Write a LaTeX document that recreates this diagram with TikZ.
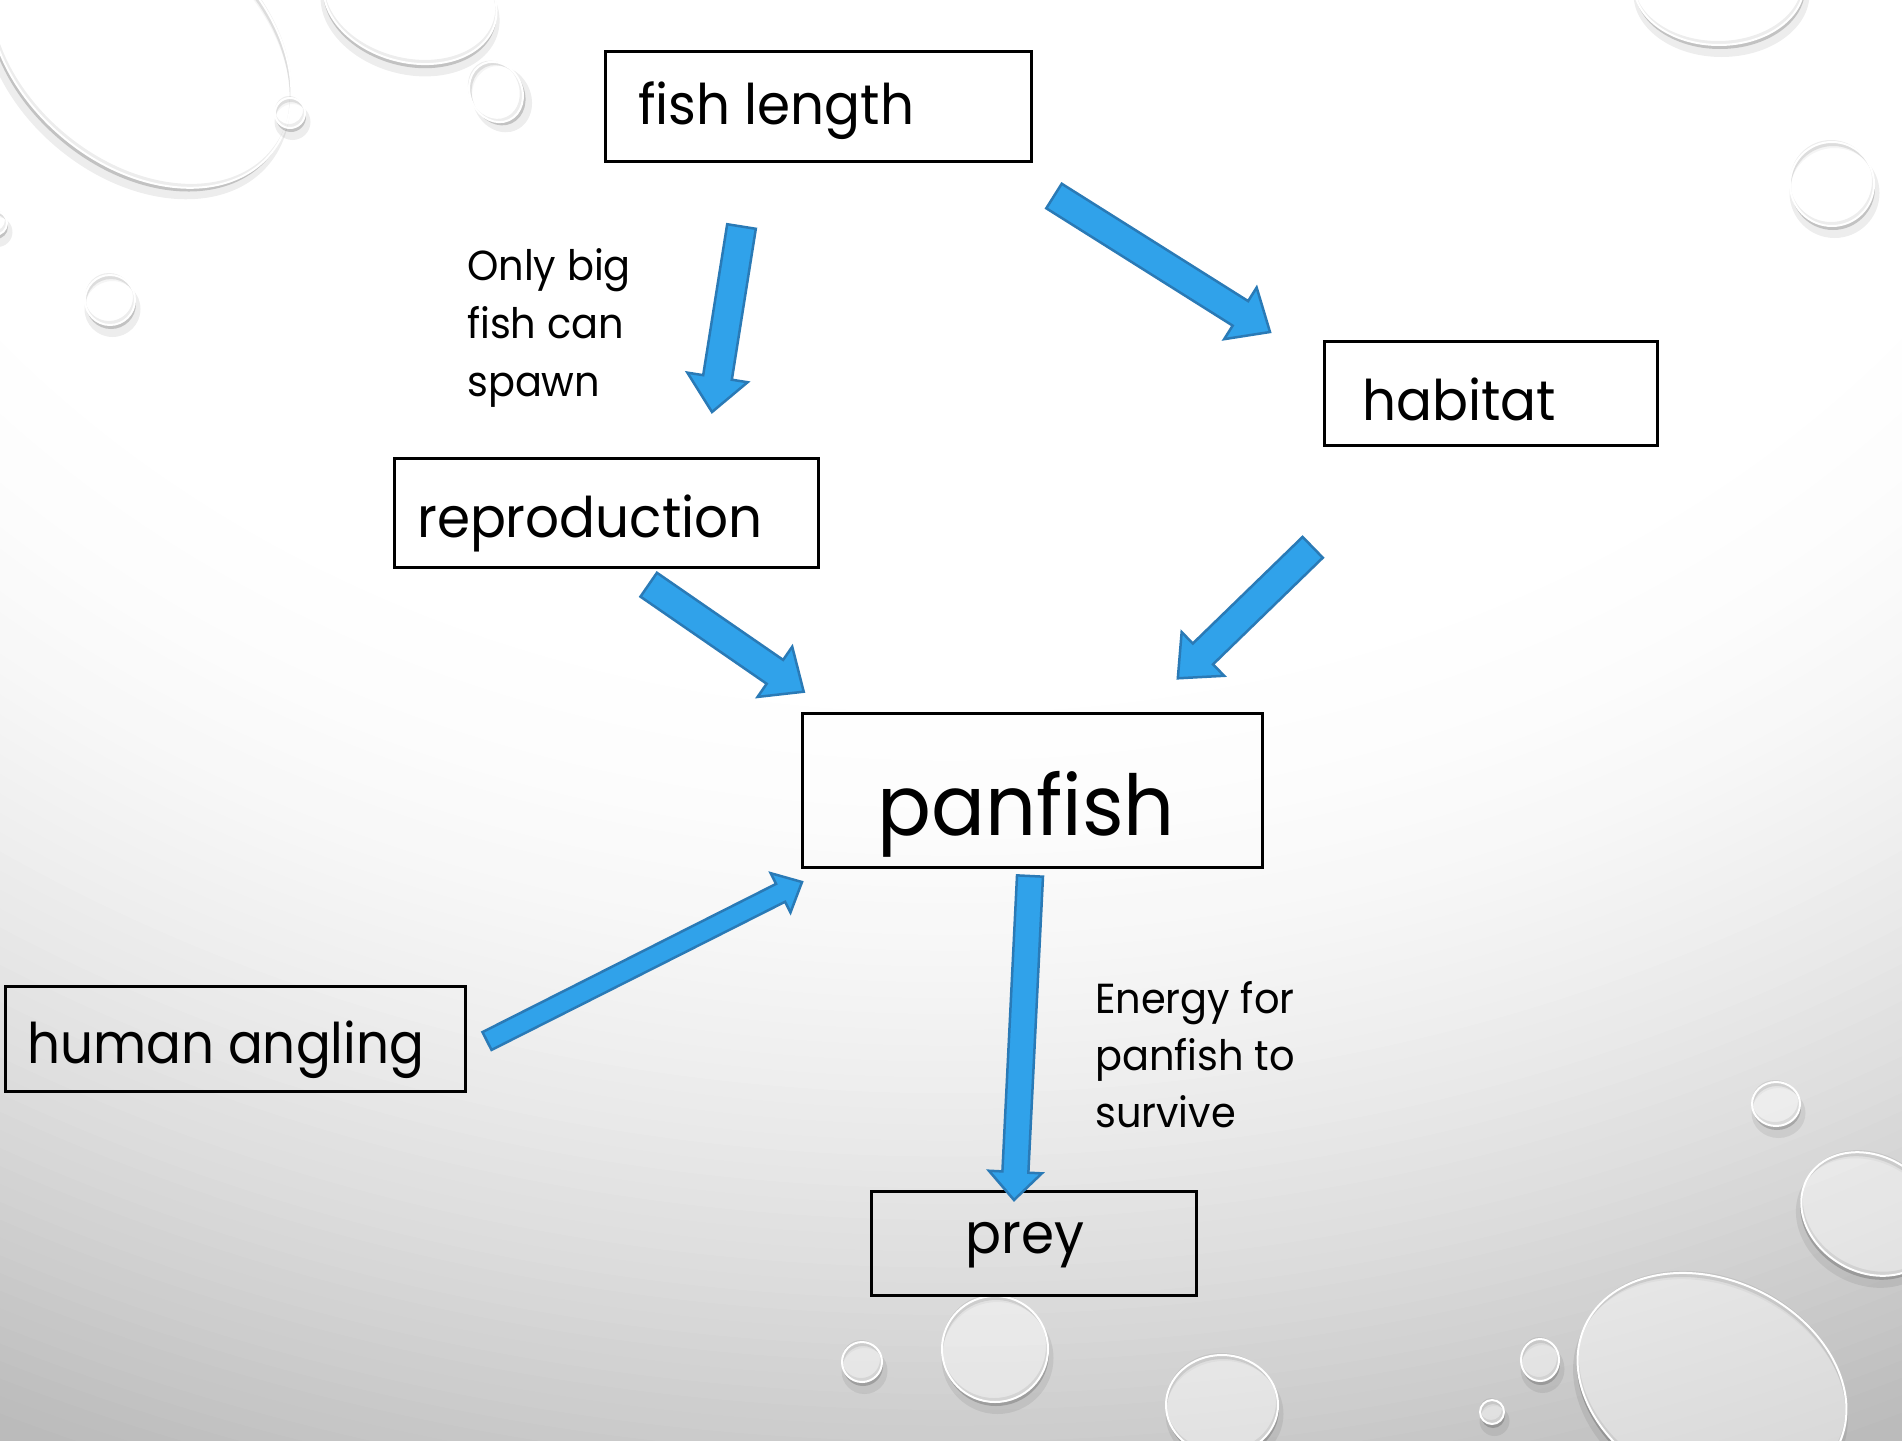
\documentclass[tikz,border=0pt]{standalone}
\usepackage{fontspec}
\setmainfont[FakeStretch=0.95]{Poppins}
\usetikzlibrary{calc}
\definecolor{arrowfill}{HTML}{30A2EA}
\definecolor{arrowline}{HTML}{2A7AB6}
\definecolor{bgD}{HTML}{BBBBBB}
\tikzset{
  box/.style={draw=black, line width=3pt, rectangle, inner sep=0pt},
  boxtext/.style={anchor=base west, inner sep=0pt, font=\fontsize{56pt}{60pt}\selectfont},
  bigtext/.style={anchor=base west, inner sep=0pt, font=\fontsize{84pt}{90pt}\selectfont},
  lbltext/.style={anchor=base west, inner sep=0pt, font=\fontsize{42pt}{46pt}\selectfont},
  barrow/.style={fill=arrowfill, draw=arrowline, line width=2.5pt, line join=miter},
  dropshadow/.style={fill=black, even odd rule},
}
\newcommand\blockarrow[5]{%
  \coordinate (hb) at ($(#2)!#5!(#1)$);
  \filldraw[barrow] ($(#1)!#3!90:(#2)$) -- ($(hb)!#3!90:(#2)$) -- ($(hb)!#4!90:(#2)$) -- (#2)
     -- ($(hb)!#4!-90:(#2)$) -- ($(hb)!#3!-90:(#2)$) -- ($(#1)!#3!-90:(#2)$) -- cycle;}
\newcommand\waterdrop[5]{%
  \begin{scope}[shift={(#1,#2)}, rotate=#5]
    \fill[dropshadow, opacity=0.07] (2.5,9) ellipse ({#3+3} and {#4+3}) (0,0) ellipse ({#3} and {#4});
    \fill[dropshadow, opacity=0.18] (1,4) ellipse ({#3} and {#4}) (0,0) ellipse ({#3} and {#4});
    \fill[white, opacity=0.45] (0,0) ellipse ({#3} and {#4});
    \fill[dropshadow, opacity=0.07] (0,0) ellipse ({#3} and {#4}) (-1,-3) ellipse ({#3-1} and {#4-1});
    \draw[white, line width=2pt] (0,0) ellipse ({#3} and {#4});
  \end{scope}}
\begin{document}
\begin{tikzpicture}[x=1pt, y=-1pt]
\useasboundingbox (0,0) rectangle (1902,1440);
\begin{scope}
  \clip (0,0) rectangle (1902,1440);
  \fill[bgD] (-5,-5) rectangle (1907,1445);
  \foreach \i in {1,...,60} {
    \pgfmathsetmacro\sc{1-0.5*\i/60}
    \pgfmathsetmacro\pc{100*sin(90*\i/60)}
    \fill[white!\pc!bgD] (950,-300) ellipse ({2300*\sc} and {1900*\sc});
  }
  % water drops
  \waterdrop{140}{45}{170}{120}{-40}
  \waterdrop{410}{0}{88}{62}{-15}
  \waterdrop{496}{92}{26}{31}{25}
  \waterdrop{290}{113}{15}{15}{0}
  \waterdrop{110}{300}{25}{25}{0}
  \waterdrop{-5}{223}{12}{12}{0}
  \waterdrop{1719}{-15}{85}{60}{0}
  \waterdrop{1832}{184}{42}{42}{0}
  \waterdrop{1776}{1104}{24}{22}{0}
  \waterdrop{1870}{1214}{72}{58}{-30}
  \waterdrop{1712}{1385}{140}{105}{-25}
  \waterdrop{1540}{1360}{19}{21}{0}
  \waterdrop{1492}{1412}{12}{12}{0}
  \waterdrop{1222}{1405}{56}{50}{0}
  \waterdrop{995}{1349}{53}{53}{0}
  \waterdrop{862}{1362}{20}{20}{0}
\end{scope}

% boxes
\node[box, minimum width=426pt, minimum height=110pt] (fl) at (818,106) {};
\node[box, minimum width=333pt, minimum height=104pt] (hab) at (1490.5,393) {};
\node[box, minimum width=424pt, minimum height=109pt] (rep) at (606,512.5) {};
\node[box, minimum width=460pt, minimum height=154pt] (pan) at (1032,790) {};
\node[box, minimum width=460pt, minimum height=105pt] (ha) at (235,1038.5) {};
\node[box, minimum width=325pt, minimum height=104pt] (prey) at (1033.5,1243) {};

% box texts
\node[boxtext] (flt) at (638,124) {fish length};
\node[boxtext] (habt) at (1362,420) {habitat};
\node[boxtext] (rept) at (417,537) {reproduction};
\node[bigtext] (pant) at (877,835) {panfish};
\node[boxtext, xscale=0.97] (hat) at (27,1063) {human angling};
\node[boxtext] (preyt) at (965,1253) {prey};

% labels
\node[lbltext] (la1) at (467,280) {Only big};
\node[lbltext] (la2) at (467,338) {fish can};
\node[lbltext] (la3) at (467,396) {spawn};
\node[lbltext] (lb1) at (1095,1013) {Energy for};
\node[lbltext] (lb2) at (1095,1070) {panfish to};
\node[lbltext] (lb3) at (1095,1127) {survive};

% arrow end points
\coordinate (a1t) at (741.5,226.5); \coordinate (a1h) at (712,412);
\coordinate (a2t) at (1054,196);    \coordinate (a2h) at (1270,332);
\coordinate (a3t) at (648.7,584.7); \coordinate (a3h) at (803.7,691.7);
\coordinate (a4t) at (1312.7,547.3);\coordinate (a4h) at (1177.8,678.3);
\coordinate (a5t) at (487,1041);    \coordinate (a5h) at (802,882);
\coordinate (a6t) at (1030,876);    \coordinate (a6h) at (1014,1200);

\blockarrow{a1t}{a1h}{14.5pt}{30.5pt}{35pt}
\blockarrow{a2t}{a2h}{14.5pt}{30.5pt}{35pt}
\blockarrow{a3t}{a3h}{14.5pt}{30.5pt}{35pt}
\blockarrow{a4t}{a4h}{14.5pt}{30.5pt}{35pt}
\blockarrow{a5t}{a5h}{10pt}{22pt}{24pt}
\blockarrow{a6t}{a6h}{13pt}{26.5pt}{28pt}
\end{tikzpicture}
\end{document}
